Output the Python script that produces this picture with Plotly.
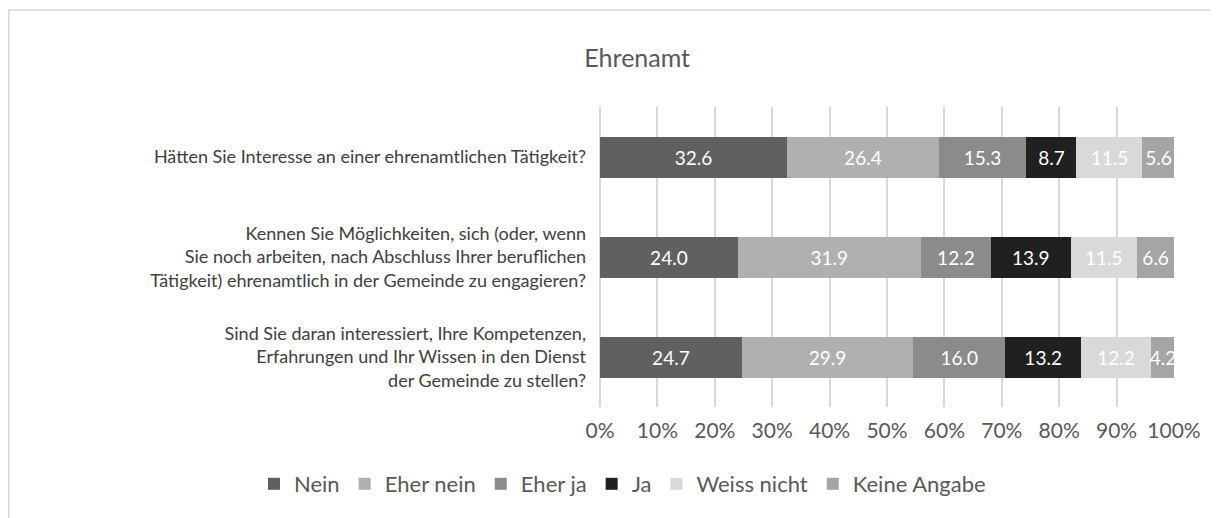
import plotly.graph_objects as go

fragen = [
    "Hätten Sie Interesse an einer ehrenamtlichen Tätigkeit?",
    "Kennen Sie Möglichkeiten, sich (oder, wenn<br>Sie noch arbeiten, nach Abschluss Ihrer beruflichen<br>Tätigkeit) ehrenamtlich in der Gemeinde zu engagieren?",
    "Sind Sie daran interessiert, Ihre Kompetenzen,<br>Erfahrungen und Ihr Wissen in den Dienst<br>der Gemeinde zu stellen?",
]
antworten = ["Nein", "Eher nein", "Eher ja", "Ja", "Weiss nicht", "Keine Angabe"]
nein = [32.6, 24.0, 24.7]
eher_nein = [26.4, 31.9, 29.9]
eher_ja = [15.3, 12.2, 16.0]
ja = [8.7, 13.9, 13.2]
weiss_nicht = [11.5, 11.5, 12.2]
keine_angabe = [5.6, 6.6, 4.2]
x_ticks = [0, 10, 20, 30, 40, 50, 60, 70, 80, 90, 100]
x_labels = ["0%", "10%", "20%", "30%", "40%", "50%", "60%", "70%", "80%", "90%", "100%"]

werte = [nein, eher_nein, eher_ja, ja, weiss_nicht, keine_angabe]
farben = ["#606060", "#b0b0b0", "#8b8b8b", "#202020", "#d9d9d9", "#a5a5a5"]

schrift = "Lato, 'Open Sans', sans-serif"

# Seite hat 8px Rand -> Figur 1210x510, Plotfläche 592..1166 / 99..399
W, H = 1210, 510
L, R, T, B = 592, 44, 99, 111
pw, ph = W - L - R, H - T - B


def px_x(x):
    return (x - L) / pw


def px_y(y):
    return (H - B - y) / ph


fig = go.Figure()
for name, vals, col in zip(antworten, werte, farben):
    fig.add_trace(go.Bar(
        y=fragen,
        x=vals,
        name=name,
        orientation="h",
        marker=dict(color=col, line=dict(width=0)),
        text=[f"{v:.1f}" for v in vals],
        textposition="inside",
        insidetextanchor="middle",
        textangle=0,
        constraintext="none",
        textfont=dict(color="white", size=19, family=schrift),
    ))

fig.update_layout(
    width=W,
    height=H,
    barmode="stack",
    bargap=0.59,
    plot_bgcolor="white",
    paper_bgcolor="white",
    font=dict(family=schrift, color="#595959", size=18),
    title=dict(
        text="Ehrenamt",
        x=0.52, xref="container", xanchor="center",
        y=1 - 50 / H, yref="container", yanchor="middle",
        font=dict(size=25, color="#595959", family=schrift),
    ),
    margin=dict(l=L, r=R, t=T, b=B, autoexpand=False),
    xaxis=dict(
        range=[0, 100],
        tickvals=x_ticks,
        ticktext=x_labels,
        showgrid=True,
        gridcolor="#d9d9d9",
        gridwidth=1.5,
        zeroline=True,
        zerolinecolor="#d9d9d9",
        zerolinewidth=1.5,
        ticklabelstandoff=9,
        tickfont=dict(size=21, color="#595959"),
        automargin=False,
    ),
    yaxis=dict(
        autorange="reversed",
        showgrid=False,
        ticklabelstandoff=13,
        tickfont=dict(size=18, color="#404040"),
        automargin=False,
    ),
    legend=dict(
        orientation="h",
        x=px_x(246), xanchor="left",
        y=px_y(476), yanchor="middle",
        font=dict(size=22, color="#595959"),
        itemwidth=30,
        traceorder="normal",
    ),
    shapes=[
        dict(type="line", xref="paper", yref="paper",
             x0=px_x(0), x1=px_x(W),
             y0=px_y(2), y1=px_y(2),
             line=dict(color="#d9d9d9", width=1.5)),
        dict(type="line", xref="paper", yref="paper",
             x0=px_x(0.5), x1=px_x(0.5),
             y0=px_y(2), y1=px_y(H),
             line=dict(color="#d9d9d9", width=2)),
    ],
)

fig.write_html("out.html")
